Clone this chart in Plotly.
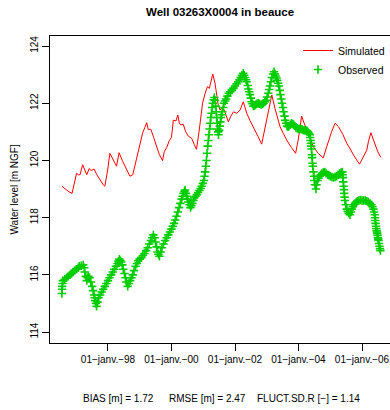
import pandas as pd
import plotly.graph_objects as go

# simulated head (decimal year, m NGF)
sim_year = [1996.55, 1996.65, 1996.75, 1996.87, 1996.95, 1997.01, 1997.07, 1997.12, 1997.20, 1997.26,
            1997.33, 1997.41, 1997.46, 1997.49, 1997.56, 1997.65, 1997.75, 1997.85, 1997.90, 1997.98,
            1998.06, 1998.12, 1998.20, 1998.27, 1998.35, 1998.45, 1998.55, 1998.69, 1998.78, 1998.86,
            1998.95, 1999.02, 1999.09, 1999.16, 1999.22, 1999.27, 1999.35, 1999.44, 1999.53, 1999.62,
            1999.72, 1999.77, 1999.85, 1999.93, 2000.00, 2000.06, 2000.14, 2000.20, 2000.25, 2000.29,
            2000.37, 2000.45, 2000.53, 2000.64, 2000.72, 2000.79, 2000.88, 2000.98, 2001.06, 2001.13,
            2001.19, 2001.30, 2001.37, 2001.47, 2001.53, 2001.61, 2001.68, 2001.79, 2001.87, 2001.95,
            2002.05, 2002.16, 2002.26, 2002.37, 2002.47, 2002.58, 2002.73, 2002.84, 2002.92, 2002.98,
            2003.08, 2003.16, 2003.26, 2003.34, 2003.42, 2003.52, 2003.63, 2003.78, 2003.91, 2003.99,
            2004.05, 2004.10, 2004.18, 2004.26, 2004.37, 2004.47, 2004.62, 2004.78, 2004.89, 2004.97,
            2005.04, 2005.15, 2005.26, 2005.40, 2005.52, 2005.63, 2005.73, 2005.92, 2006.04, 2006.15,
            2006.20, 2006.28, 2006.35, 2006.41, 2006.50, 2006.59]
sim_level = [119.10, 119.00, 118.92, 118.85, 119.20, 119.55, 119.50, 119.50, 119.85, 119.70,
             119.50, 119.72, 119.65, 119.66, 119.70, 119.50, 119.30, 119.15, 119.10, 119.60,
             120.25, 120.10, 119.95, 119.80, 120.27, 120.00, 119.75, 119.45, 119.50, 119.90,
             120.25, 120.60, 120.95, 121.15, 121.32, 121.08, 121.09, 120.80, 120.48, 120.20,
             119.99, 120.30, 120.45, 120.69, 120.80, 121.41, 121.38, 121.59, 121.30, 121.24,
             121.27, 121.00, 120.85, 120.77, 120.55, 120.39, 121.10, 122.00, 122.35, 122.58,
             122.52, 123.02, 122.70, 121.94, 121.76, 121.88, 121.70, 121.35, 121.55, 121.70,
             121.65, 121.76, 122.05, 121.65, 121.40, 121.18, 120.83, 120.57, 121.00, 121.35,
             121.90, 122.29, 121.82, 121.50, 121.18, 120.95, 120.71, 120.45, 120.25, 120.71,
             121.20, 121.55, 121.30, 121.06, 120.75, 120.48, 120.25, 120.09, 120.48, 120.80,
             121.00, 121.30, 121.18, 120.90, 120.60, 120.40, 120.19, 119.87, 120.13, 120.36,
             120.65, 120.97, 120.75, 120.54, 120.30, 120.11]

# observed head
obs_year = [1996.55, 1996.555, 1996.56, 1996.57, 1996.58, 1996.64, 1996.70, 1996.75, 1996.80, 1996.85,
            1996.90, 1996.95, 1997.01, 1997.06, 1997.10, 1997.16, 1997.22, 1997.25, 1997.27, 1997.30,
            1997.33, 1997.36, 1997.38, 1997.42, 1997.46, 1997.50, 1997.53, 1997.56, 1997.58, 1997.60,
            1997.62, 1997.64, 1997.67, 1997.70, 1997.75, 1997.80, 1997.85, 1997.90, 1997.95, 1998.00,
            1998.05, 1998.10, 1998.15, 1998.20, 1998.25, 1998.30, 1998.33, 1998.36, 1998.39, 1998.42,
            1998.45, 1998.48, 1998.52, 1998.55, 1998.58, 1998.62, 1998.66, 1998.70, 1998.74, 1998.78,
            1998.82, 1998.87, 1998.91, 1998.95, 1999.00, 1999.05, 1999.10, 1999.15, 1999.20, 1999.25,
            1999.30, 1999.35, 1999.39, 1999.43, 1999.47, 1999.50, 1999.53, 1999.56, 1999.59, 1999.62,
            1999.66, 1999.70, 1999.75, 1999.80, 1999.85, 1999.90, 1999.95, 2000.00, 2000.04, 2000.08,
            2000.12, 2000.16, 2000.20, 2000.24, 2000.28, 2000.32, 2000.35, 2000.38, 2000.41, 2000.43,
            2000.46, 2000.48, 2000.51, 2000.53, 2000.57, 2000.60, 2000.63, 2000.66, 2000.69, 2000.72,
            2000.76, 2000.80, 2000.84, 2000.88, 2000.92, 2000.95, 2000.99, 2001.02, 2001.04, 2001.06,
            2001.08, 2001.10, 2001.12, 2001.14, 2001.16, 2001.18, 2001.20, 2001.22, 2001.24, 2001.26,
            2001.28, 2001.30, 2001.33, 2001.35, 2001.37, 2001.39, 2001.41, 2001.42, 2001.44, 2001.45,
            2001.47, 2001.48, 2001.50, 2001.52, 2001.54, 2001.56, 2001.58, 2001.60, 2001.63, 2001.65,
            2001.69, 2001.72, 2001.76, 2001.80, 2001.85, 2001.90, 2001.95, 2002.00, 2002.05, 2002.10,
            2002.14, 2002.18, 2002.22, 2002.26, 2002.29, 2002.32, 2002.35, 2002.37, 2002.40, 2002.42,
            2002.45, 2002.47, 2002.50, 2002.52, 2002.55, 2002.58, 2002.62, 2002.65, 2002.69, 2002.73,
            2002.77, 2002.82, 2002.86, 2002.90, 2002.94, 2002.98, 2003.01, 2003.05, 2003.08, 2003.10,
            2003.13, 2003.16, 2003.20, 2003.23, 2003.26, 2003.28, 2003.31, 2003.33, 2003.36, 2003.38,
            2003.41, 2003.43, 2003.46, 2003.48, 2003.51, 2003.53, 2003.56, 2003.58, 2003.61, 2003.64,
            2003.67, 2003.70, 2003.74, 2003.78, 2003.82, 2003.85, 2003.88, 2003.92, 2003.96, 2004.00,
            2004.04, 2004.08, 2004.12, 2004.16, 2004.20, 2004.24, 2004.27, 2004.30, 2004.33, 2004.36,
            2004.37, 2004.38, 2004.39, 2004.40, 2004.41, 2004.42, 2004.43, 2004.44, 2004.45, 2004.47,
            2004.49, 2004.50, 2004.52, 2004.55, 2004.57, 2004.60, 2004.63, 2004.66, 2004.70, 2004.74,
            2004.78, 2004.83, 2004.87, 2004.92, 2004.96, 2005.00, 2005.05, 2005.10, 2005.15, 2005.20,
            2005.25, 2005.30, 2005.34, 2005.38, 2005.39, 2005.40, 2005.41, 2005.42, 2005.43, 2005.44,
            2005.45, 2005.46, 2005.49, 2005.52, 2005.55, 2005.58, 2005.62, 2005.65, 2005.68, 2005.71,
            2005.74, 2005.78, 2005.82, 2005.86, 2005.90, 2005.95, 2006.00, 2006.05, 2006.10, 2006.15,
            2006.20, 2006.25, 2006.30, 2006.33, 2006.36, 2006.38, 2006.40, 2006.41, 2006.42, 2006.43,
            2006.44, 2006.45, 2006.46, 2006.47, 2006.48, 2006.49, 2006.50, 2006.51, 2006.52, 2006.535,
            2006.55, 2006.565, 2006.58]
obs_level = [115.35, 115.50, 115.60, 115.70, 115.80, 115.85, 115.90, 115.95, 116.00, 116.05,
             116.10, 116.15, 116.20, 116.25, 116.30, 116.32, 116.35, 116.25, 116.10, 115.95,
             115.80, 115.90, 115.95, 115.90, 115.75, 115.60, 115.45, 115.30, 115.20, 115.10,
             115.00, 114.90, 115.05, 115.20, 115.30, 115.40, 115.50, 115.60, 115.70, 115.80,
             115.90, 116.00, 116.10, 116.20, 116.30, 116.40, 116.48, 116.55, 116.50, 116.45,
             116.35, 116.20, 116.05, 115.90, 115.75, 115.60, 115.70, 115.80, 115.90, 116.00,
             116.15, 116.30, 116.40, 116.50, 116.55, 116.60, 116.68, 116.75, 116.85, 116.95,
             117.08, 117.20, 117.30, 117.40, 117.30, 117.15, 116.98, 116.80, 116.72, 116.65,
             116.80, 116.95, 117.08, 117.20, 117.30, 117.40, 117.50, 117.60, 117.70, 117.80,
             117.92, 118.05, 118.20, 118.35, 118.50, 118.65, 118.75, 118.85, 118.92, 118.97,
             118.85, 118.75, 118.65, 118.55, 118.45, 118.35, 118.42, 118.50, 118.60, 118.70,
             118.75, 118.80, 118.88, 118.95, 119.02, 119.10, 119.20, 119.30, 119.45, 119.60,
             119.80, 120.00, 120.25, 120.50, 120.70, 120.90, 121.10, 121.30, 121.50, 121.65,
             121.85, 122.00, 122.12, 122.20, 122.10, 121.90, 121.70, 121.50, 121.30, 121.10,
             121.00, 120.90, 121.05, 121.20, 121.35, 121.50, 121.60, 121.70, 121.85, 122.00,
             122.08, 122.15, 122.25, 122.35, 122.40, 122.45, 122.52, 122.60, 122.68, 122.75,
             122.82, 122.90, 122.98, 123.05, 122.98, 122.90, 122.82, 122.75, 122.62, 122.50,
             122.40, 122.30, 122.18, 122.05, 121.98, 121.90, 121.92, 121.95, 121.98, 122.00,
             121.98, 121.95, 121.97, 122.00, 122.05, 122.10, 122.22, 122.35, 122.48, 122.60,
             122.75, 122.90, 123.02, 123.10, 123.02, 122.95, 122.88, 122.80, 122.70, 122.60,
             122.45, 122.30, 122.15, 122.00, 121.85, 121.70, 121.55, 121.40, 121.30, 121.20,
             121.18, 121.20, 121.25, 121.30, 121.28, 121.25, 121.20, 121.15, 121.12, 121.10,
             121.10, 121.10, 121.08, 121.05, 121.05, 121.05, 121.03, 121.00, 120.95, 120.90,
             120.80, 120.70, 120.60, 120.50, 120.40, 120.20, 120.10, 119.90, 119.80, 119.60,
             119.45, 119.30, 119.15, 119.00, 119.15, 119.30, 119.38, 119.45, 119.50, 119.55,
             119.58, 119.60, 119.55, 119.50, 119.48, 119.45, 119.42, 119.40, 119.42, 119.45,
             119.50, 119.55, 119.58, 119.60, 119.50, 119.40, 119.25, 119.10, 118.98, 118.85,
             118.72, 118.60, 118.45, 118.30, 118.22, 118.15, 118.10, 118.20, 118.30, 118.38,
             118.45, 118.50, 118.55, 118.58, 118.60, 118.62, 118.60, 118.60, 118.60, 118.58,
             118.55, 118.50, 118.45, 118.38, 118.30, 118.20, 118.10, 118.00, 117.90, 117.80,
             117.70, 117.62, 117.55, 117.50, 117.45, 117.38, 117.30, 117.25, 117.20, 117.10,
             117.00, 116.92, 116.85]

tick_dates = ['1998-01-01', '2000-01-01', '2002-01-01', '2004-01-01', '2006-01-01']
tick_text = ['01\u2212janv.\u221298', '01\u2212janv.\u221200', '01\u2212janv.\u221202',
             '01\u2212janv.\u221204', '01\u2212janv.\u221206']
y_ticks = [114, 116, 118, 120, 122, 124]

FONT = 'Liberation Sans, Arial, sans-serif'


def to_date(years):
    # decimal year -> timestamp
    out = []
    for y in years:
        yr = int(y)
        out.append(pd.Timestamp(year=yr, month=1, day=1) + pd.Timedelta(days=(y - yr) * 365.25))
    return out


fig = go.Figure()
fig.add_trace(go.Scatter(
    x=to_date(sim_year), y=sim_level, mode='lines', name='Simulated',
    line=dict(color='#ff0000', width=1),
))
fig.add_trace(go.Scatter(
    x=to_date(obs_year), y=obs_level, mode='markers', name='Observed',
    marker=dict(symbol='cross-thin', size=6, line=dict(color='#00cd00', width=1.6)),
))

fig.update_layout(
    width=390, height=410,
    margin=dict(l=50, r=0, t=36, b=67),
    paper_bgcolor='white', plot_bgcolor='white',
    font=dict(family=FONT, size=10, color='black'),
    showlegend=True,
    legend=dict(x=1.0, y=1.0, xanchor='right', yanchor='top', bgcolor='rgba(0,0,0,0)',
                font=dict(size=10.5), tracegroupgap=0, itemwidth=30),
    xaxis=dict(
        type='date', range=['1996-03-05', '2006-11-19'],
        tickvals=tick_dates, ticktext=tick_text,
        ticks='outside', ticklen=7, tickcolor='black',
        showline=True, linecolor='black', linewidth=1, mirror=True,
        showgrid=False, zeroline=False, automargin=False,
    ),
    yaxis=dict(
        range=[113.62, 124.35], tickvals=y_ticks, tickangle=-90,
        ticks='outside', ticklen=7, tickcolor='black',
        showline=True, linecolor='black', linewidth=1,
        showgrid=False, zeroline=False, automargin=False,
    ),
    annotations=[
        dict(text='<b>Well 03263X0004 in beauce</b>', xref='paper', yref='paper',
             x=0.5, y=1.0, xanchor='center', yanchor='middle', yshift=24,
             showarrow=False, font=dict(size=11.5)),
        dict(text='Water level [m NGF]', xref='paper', yref='paper', x=-0.103, y=0.5,
             xanchor='center', yanchor='middle', textangle=-90, showarrow=False),
        dict(text='BIAS [m] = 1.72', xref='paper', yref='paper', x=(118 - 50) / 340, y=0,
             xanchor='center', yanchor='middle', yshift=-55, showarrow=False),
        dict(text='RMSE [m] = 2.47', xref='paper', yref='paper', x=(207.5 - 50) / 340, y=0,
             xanchor='center', yanchor='middle', yshift=-55, showarrow=False),
        dict(text='FLUCT.SD.R [\u2212] = 1.14', xref='paper', yref='paper', x=(308 - 50) / 340, y=0,
             xanchor='center', yanchor='middle', yshift=-55, showarrow=False),
    ],
)

# drop the default 8px body margin so the figure sits at the page origin
fig.write_html('out.html', config={'displayModeBar': False},
               post_script="document.body.style.margin='0px';")
